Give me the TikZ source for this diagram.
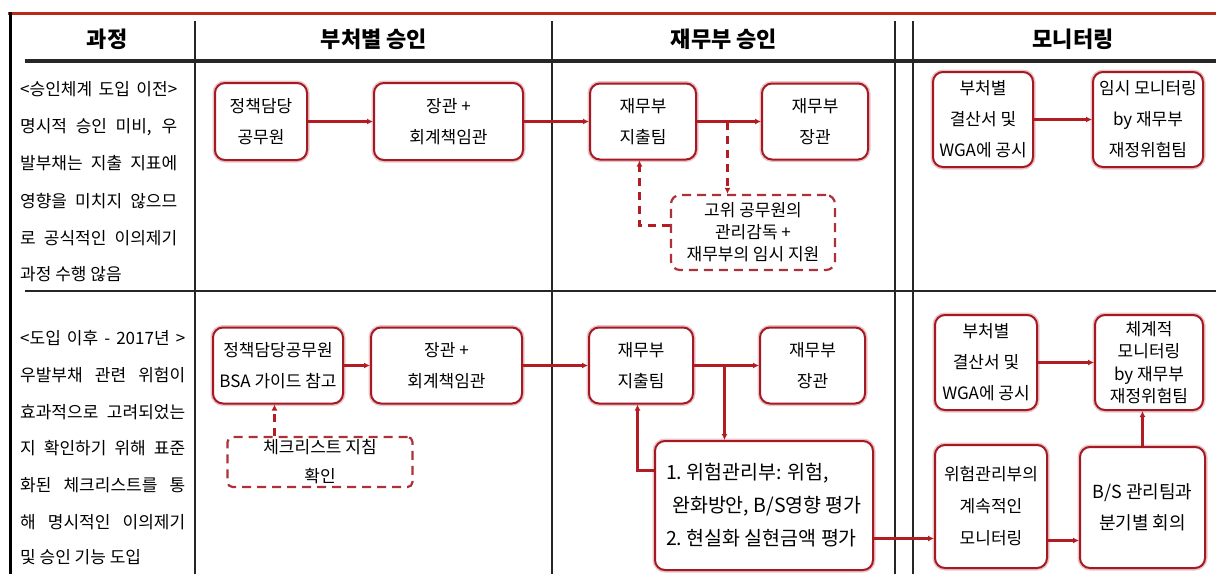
\documentclass[tikz,border=0pt]{standalone}
\usepackage{fontspec}
\setmainfont{Noto Sans CJK KR}
\usetikzlibrary{arrows.meta,calc}
\definecolor{topred}{RGB}{185,40,25}
\definecolor{boxred}{RGB}{165,25,35}
\definecolor{arrred}{RGB}{180,28,35}
\newcommand\jln[2]{\makebox[#1][s]{#2}}
\begin{document}
\begin{tikzpicture}[x=1pt,y=-1pt,
  rule/.style={line width=2pt,black!85},
  box/.style={draw=boxred,line width=2pt,rounded corners=10pt,fill=white,
     preaction={draw=boxred!25,line width=5pt},
     align=center,inner sep=1pt,font=\fontsize{17}{31}\selectfont},
  dbox/.style={draw=boxred!90,line width=2.2pt,dash pattern=on 9pt off 6pt,
     rounded corners=9pt,fill=white,align=center,inner sep=1pt,font=\fontsize{17}{22}\selectfont},
  arr/.style={draw=arrred,line width=2.5pt,-{Latex[length=6pt,width=6pt]}},
  darr/.style={arr,dash pattern=on 8pt off 6pt},
  hdr/.style={font=\fontsize{22}{24}\selectfont\bfseries},
  lt/.style={anchor=west,inner sep=0pt,font=\fontsize{17}{20}\selectfont}
]
\useasboundingbox (0,0) rectangle (1216,574);
\fill[white] (0,0) rectangle (1216,574);
% frame lines
\draw[topred,line width=3pt] (8,13) -- (1216,13);
\draw[black,line width=3pt] (10,12) -- (10,574);
\draw[black!85,line width=3.5pt] (25,61) -- (1216,61);
\draw[black!85,line width=2.5pt] (25,291) -- (1216,291);
\foreach \x in {195,552,895,913} \draw[rule] (\x,21) -- (\x,574);
% headers
\node[hdr] (h1) at (107,39) {과정};
\node[hdr] (h2) at (374,39) {부처별 승인};
\node[hdr] (h3) at (724,39) {재무부 승인};
\node[hdr] (h4) at (1073,39) {모니터링};
% left column, row 1
\node[lt] (t1a) at (20,89) {\jln{157pt}{<승인체계 도입 이전>}};
\node[lt] (t1b) at (20,127) {\jln{157pt}{명시적 승인 미비, 우}};
\node[lt] (t1c) at (20,163) {\jln{157pt}{발부채는 지출 지표에}};
\node[lt] (t1d) at (20,201) {\jln{157pt}{영향을 미치지 않으므}};
\node[lt] (t1e) at (20,238) {\jln{157pt}{로 공식적인 이의제기}};
\node[lt] (t1f) at (20,274) {과정 수행 않음};
% left column, row 2
\node[lt] (t2a) at (20,338) {\jln{165pt}{<도입 이후 - 2017년 >}};
\node[lt] (t2b) at (20,375) {\jln{165pt}{우발부채 관련 위험이}};
\node[lt] (t2c) at (20,412) {\jln{165pt}{효과적으로 고려되었는}};
\node[lt] (t2d) at (20,448) {\jln{165pt}{지 확인하기 위해 표준}};
\node[lt] (t2e) at (20,485) {\jln{165pt}{화된 체크리스트를 통}};
\node[lt] (t2f) at (20,522) {\jln{165pt}{해 명시적인 이의제기}};
\node[lt] (t2g) at (20,557) {및 승인 기능 도입};
% row 1 boxes
\node[box,minimum width=92pt,minimum height=77pt] (n1a) at (261,121.5) {정책담당\\공무원};
\node[box,minimum width=149pt,minimum height=77pt] (n1b) at (448.5,121.5) {장관 +\\회계책임관};
\node[box,minimum width=106pt,minimum height=76pt] (n1c) at (643,121.5) {재무부\\지출팀};
\node[box,minimum width=106pt,minimum height=76pt] (n1d) at (815,121.5) {재무부\\장관};
\node[dbox,minimum width=164pt,minimum height=75pt] (n1e) at (753,232.5) {고위 공무원의\\관리감독 +\\재무부의 임시 지원};
\node[box,minimum width=100pt,minimum height=95pt] (n1f) at (983,119.5) {부처별\\결산서 및\\WGA에 공시};
\node[box,minimum width=110pt,minimum height=95pt] (n1g) at (1148,119.5) {임시 모니터링\\by 재무부\\재정위험팀};
% row 2 boxes
\node[box,minimum width=130pt,minimum height=76pt] (n2a) at (278,365.5) {정책담당공무원\\BSA 가이드 참고};
\node[box,minimum width=151pt,minimum height=76pt] (n2b) at (446.5,365.5) {장관 +\\회계책임관};
\node[dbox,rounded corners=5pt,minimum width=185pt,minimum height=50pt,font=\fontsize{17}{29}\selectfont] (n2c) at (320,462) {체크리스트 지침\\확인};
\node[box,minimum width=104pt,minimum height=76pt] (n2d) at (641,365.5) {재무부\\지출팀};
\node[box,minimum width=105pt,minimum height=76pt] (n2e) at (812.5,365.5) {재무부\\장관};
\node[box,align=left,minimum width=218pt,minimum height=129pt,font=\fontsize{19.5}{33}\selectfont] (n2f) at (764,505.5) {1.\ 위험관리부: 위험,\\\hspace*{6pt}완화방안, B/S영향 평가\\2.\ 현실화 실현금액 평가};
\node[box,minimum width=102pt,minimum height=95pt] (n2g) at (986,362.5) {부처별\\결산서 및\\WGA에 공시};
\node[box,minimum width=108pt,minimum height=95pt,font=\fontsize{17}{22.5}\selectfont] (n2h) at (1149,362.5) {체계적\\모니터링\\by 재무부\\재정위험팀};
\node[box,minimum width=112pt,minimum height=123pt,font=\fontsize{17}{32}\selectfont] (n2i) at (991,506.5) {위험관리부의\\계속적인\\모니터링};
\node[box,minimum width=125pt,minimum height=121pt,font=\fontsize{18}{31}\selectfont] (n2j) at (1142.5,507.5) {B/S 관리팀과\\분기별 회의};
% row 1 connectors
\coordinate (j1) at (727.5,121.5);
\draw[arr] (n1a) -- (n1b);
\draw[arr] (n1b) -- (n1c);
\draw[arr] (n1c) -- (n1d);
\draw[darr] (j1) -- (j1 |- n1e.north);
\draw[darr] ([yshift=7pt]n1e.west) -| ([xshift=-3.5pt]n1c.south);
\draw[arr] (n1f) -- (n1g);
% row 2 connectors
\coordinate (j2) at (724.5,365.5);
\draw[arr] (n2a) -- (n2b);
\draw[arr] (n2b) -- (n2d);
\draw[arr] (n2d) -- (n2e);
\draw[darr] ([xshift=-3.5pt]n2a.south |- n2c.north) -- ([xshift=-3.5pt]n2a.south);
\draw[arr] (j2) -- (j2 |- n2f.north);
\draw[arr] ([yshift=35pt]n2f.west) -| ([xshift=-3.5pt]n2d.south);
\draw[arr] ([yshift=-33pt]n2f.east) -- ([yshift=-33pt]n2f.east -| n2i.west);
\draw[arr] ([yshift=-34pt]n2i.east) -- ([yshift=-34pt]n2i.east -| n2j.west);
\draw[arr] (n2g) -- (n2h);
\draw[arr] (n2j.north) -- (n2j.north |- n2h.south);
\end{tikzpicture}
\end{document}
